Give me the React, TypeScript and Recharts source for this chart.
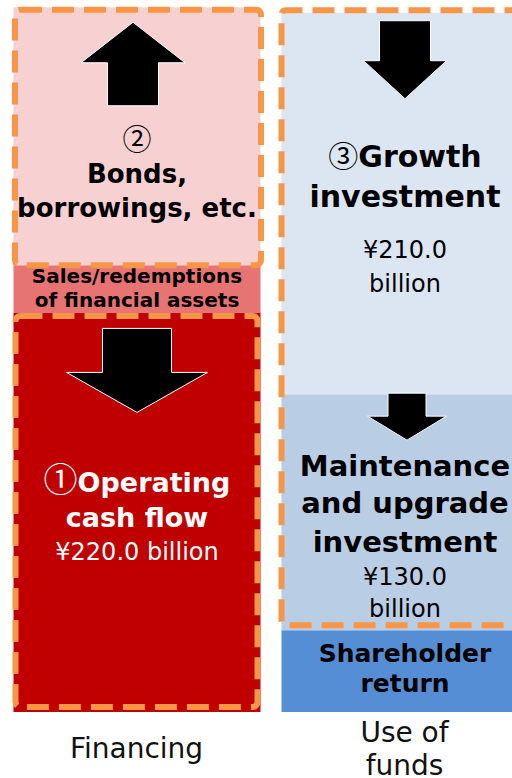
import React from 'react';
import { Bar, BarChart, Cell, LabelList, XAxis, YAxis } from 'recharts';

const categories = ['Financing', 'Use of funds'];
const tickLines = [['Financing'], ['Use of', 'funds']];

// stacked segments per column, ¥ billion (bottom -> top)
const bottomValues = [220.0, 45];
const middleValues = [26, 130.0];
const topValues = [142, 210.0];

const bottomLabels = [
  ['①Operating', 'cash flow', '¥220.0 billion'],
  ['Shareholder', 'return'],
];
const middleLabels = [
  ['Sales/redemptions', 'of financial assets'],
  ['Maintenance', 'and upgrade', 'investment', '¥130.0', 'billion'],
];
const topLabels = [
  ['②', 'Bonds,', 'borrowings, etc.'],
  ['③Growth', 'investment', '¥210.0', 'billion'],
];

const bottomColors = ['#c00000', '#558ed5'];
const middleColors = ['#e87373', '#b9cde5'];
const topColors = ['#f7d1d1', '#dce6f2'];

const chartData = categories.map((name, i) => ({
  name,
  bottom: bottomValues[i],
  middle: middleValues[i],
  top: topValues[i],
}));

const FONT = '"DejaVu Sans", "Noto Sans CJK JP", sans-serif';
const CJK = '"Noto Sans CJK JP", "DejaVu Sans", sans-serif';
const ORANGE = '#f79646';

type LineStyle = { dy: number; size: number; bold?: boolean; fill?: string; mark?: number };
type ArrowStyle = { tip: number; neck: number; tail: number; shaft: number; head: number; dx?: number };
type BoxStyle = { l: number; t: number; r: number; b: number; withBelow?: boolean };
type SegStyle = { lines: LineStyle[]; arrow?: ArrowStyle; box?: BoxStyle };

const W = '#fff';

const bottomStyles: SegStyle[] = [
  {
    lines: [
      { dy: 180, size: 27, bold: true, fill: W, mark: 34 },
      { dy: 215, size: 27, bold: true, fill: W },
      { dy: 248, size: 24, fill: W },
    ],
    arrow: { tip: 100, neck: 60, tail: 16, shaft: 34.5, head: 70.5 },
    box: { l: 2, t: 3.5, r: 3, b: 5 },
  },
  {
    lines: [
      { dy: 32, size: 25, bold: true },
      { dy: 62, size: 25, bold: true },
    ],
  },
];

const middleStyles: SegStyle[] = [
  {
    lines: [
      { dy: 18, size: 20, bold: true },
      { dy: 42, size: 20, bold: true },
    ],
  },
  {
    lines: [
      { dy: 82, size: 29, bold: true },
      { dy: 119, size: 29, bold: true },
      { dy: 158, size: 29, bold: true },
      { dy: 191, size: 24 },
      { dy: 223, size: 24 },
    ],
    arrow: { tip: 46, neck: 22, tail: -1, shaft: 19, head: 39.5, dx: 2 },
  },
];

const topStyles: SegStyle[] = [
  {
    lines: [
      { dy: 143, size: 28, mark: 29 },
      { dy: 176, size: 26, bold: true },
      { dy: 210, size: 26, bold: true },
    ],
    arrow: { tip: 15, neck: 55.5, tail: 98.5, shaft: 25.5, head: 52, dx: -4 },
    box: { l: 1.5, t: 2.5, r: -0.5, b: 0 },
  },
  {
    lines: [
      { dy: 154, size: 30, bold: true, mark: 30 },
      { dy: 194, size: 30, bold: true },
      { dy: 245, size: 24 },
      { dy: 279, size: 24 },
    ],
    arrow: { tip: 86, neck: 48, tail: 8, shaft: 25.5, head: 41.5 },
    box: { l: 0, t: -2.5, r: 0, b: 5, withBelow: true },
  },
];

// circled digits (①②③) come from the CJK font at their own size
const renderLine = (t: string, st: LineStyle) => {
  if (!st.mark) return t;
  const head = t.slice(0, 1);
  const rest = t.slice(1);
  return (
    <>
      <tspan fontFamily={CJK} fontSize={st.mark} fontWeight="normal">
        {head}
      </tspan>
      {rest && <tspan>{rest}</tspan>}
    </>
  );
};

const makeLabel = (styles: SegStyle[], texts: string[][], values: number[]) => (props: any) => {
  const vb = props.viewBox ?? {};
  const x = Number(props.x ?? vb.x);
  const y = Number(props.y ?? vb.y);
  const width = Number(props.width ?? vb.width);
  const height = Number(props.height ?? vb.height);
  const idx = categories.indexOf(props.value);
  if (idx < 0 || Number.isNaN(x)) return null;
  const st = styles[idx];
  const lines = texts[idx];
  const cx = x + width / 2;

  let arrow = null;
  if (st.arrow) {
    const a = st.arrow;
    const ax = cx + (a.dx ?? 0);
    const pts = [
      [ax, y + a.tip],
      [ax + a.head, y + a.neck],
      [ax + a.shaft, y + a.neck],
      [ax + a.shaft, y + a.tail],
      [ax - a.shaft, y + a.tail],
      [ax - a.shaft, y + a.neck],
      [ax - a.head, y + a.neck],
    ]
      .map((p) => p.join(','))
      .join(' ');
    arrow = <polygon points={pts} fill="#000" stroke="#fff" strokeWidth={1} />;
  }

  let box = null;
  if (st.box) {
    const b = st.box;
    const dash = { fill: 'none', stroke: ORANGE, strokeWidth: 6, strokeDasharray: '22 10' };
    if (b.withBelow) {
      // the growth box also wraps the maintenance segment below it; its right side runs off the page
      const extra = (middleValues[idx] * height) / values[idx];
      const l = x + b.l;
      const t = y + b.t;
      const bt = y + height + extra - b.b;
      const r = x + width + 30;
      box = <path d={`M${r},${t} H${l + 5} Q${l},${t} ${l},${t + 5} V${bt - 5} Q${l},${bt} ${l + 5},${bt} H${r}`} {...dash} />;
    } else {
      box = (
        <rect
          x={x + b.l}
          y={y + b.t}
          width={width - b.l - b.r}
          height={height - b.t - b.b}
          rx={5}
          {...dash}
        />
      );
    }
  }

  return (
    <g>
      {arrow}
      {lines.map((t, i) => (
        <text
          key={i}
          x={cx}
          y={y + st.lines[i].dy}
          textAnchor="middle"
          fontFamily={FONT}
          fontSize={st.lines[i].size}
          fontWeight={st.lines[i].bold ? 'bold' : 'normal'}
          fill={st.lines[i].fill ?? '#000'}
        >
          {renderLine(t, st.lines[i])}
        </text>
      ))}
      {box}
    </g>
  );
};

const CategoryTick = (props: any) => {
  const { x, y, payload } = props;
  const idx = categories.indexOf(payload.value);
  const lines = idx >= 0 ? tickLines[idx] : [payload.value];
  const first = lines.length === 1 ? 46 : 30;
  return (
    <text x={x} y={y} textAnchor="middle" fontFamily={FONT} fontSize={28} fill="#111">
      {lines.map((l: string, i: number) => (
        <tspan key={i} x={x} dy={i === 0 ? first : 33}>
          {l}
        </tspan>
      ))}
    </text>
  );
};

export default function App() {
  return (
    <div
      style={{
        position: 'absolute',
        left: 0,
        top: 0,
        width: 512,
        height: 778,
        overflow: 'hidden',
        background: '#fff',
      }}
    >
      <BarChart
        width={540}
        height={778}
        data={chartData}
        margin={{ top: 0, right: 1.5, left: 2.5, bottom: 0 }}
        barSize={247}
      >
        <XAxis
          dataKey="name"
          height={66}
          axisLine={false}
          tickLine={false}
          tickSize={0}
          tickMargin={0}
          interval={0}
          tick={<CategoryTick />}
        />
        <YAxis hide domain={[0, 392]} />
        <Bar dataKey="bottom" stackId="a" isAnimationActive={false}>
          {chartData.map((_, i) => (
            <Cell key={i} fill={bottomColors[i]} />
          ))}
          <LabelList dataKey="name" content={makeLabel(bottomStyles, bottomLabels, bottomValues)} />
        </Bar>
        <Bar dataKey="middle" stackId="a" isAnimationActive={false}>
          {chartData.map((_, i) => (
            <Cell key={i} fill={middleColors[i]} />
          ))}
          <LabelList dataKey="name" content={makeLabel(middleStyles, middleLabels, middleValues)} />
        </Bar>
        <Bar dataKey="top" stackId="a" isAnimationActive={false}>
          {chartData.map((_, i) => (
            <Cell key={i} fill={topColors[i]} />
          ))}
          <LabelList dataKey="name" content={makeLabel(topStyles, topLabels, topValues)} />
        </Bar>
      </BarChart>
    </div>
  );
}
